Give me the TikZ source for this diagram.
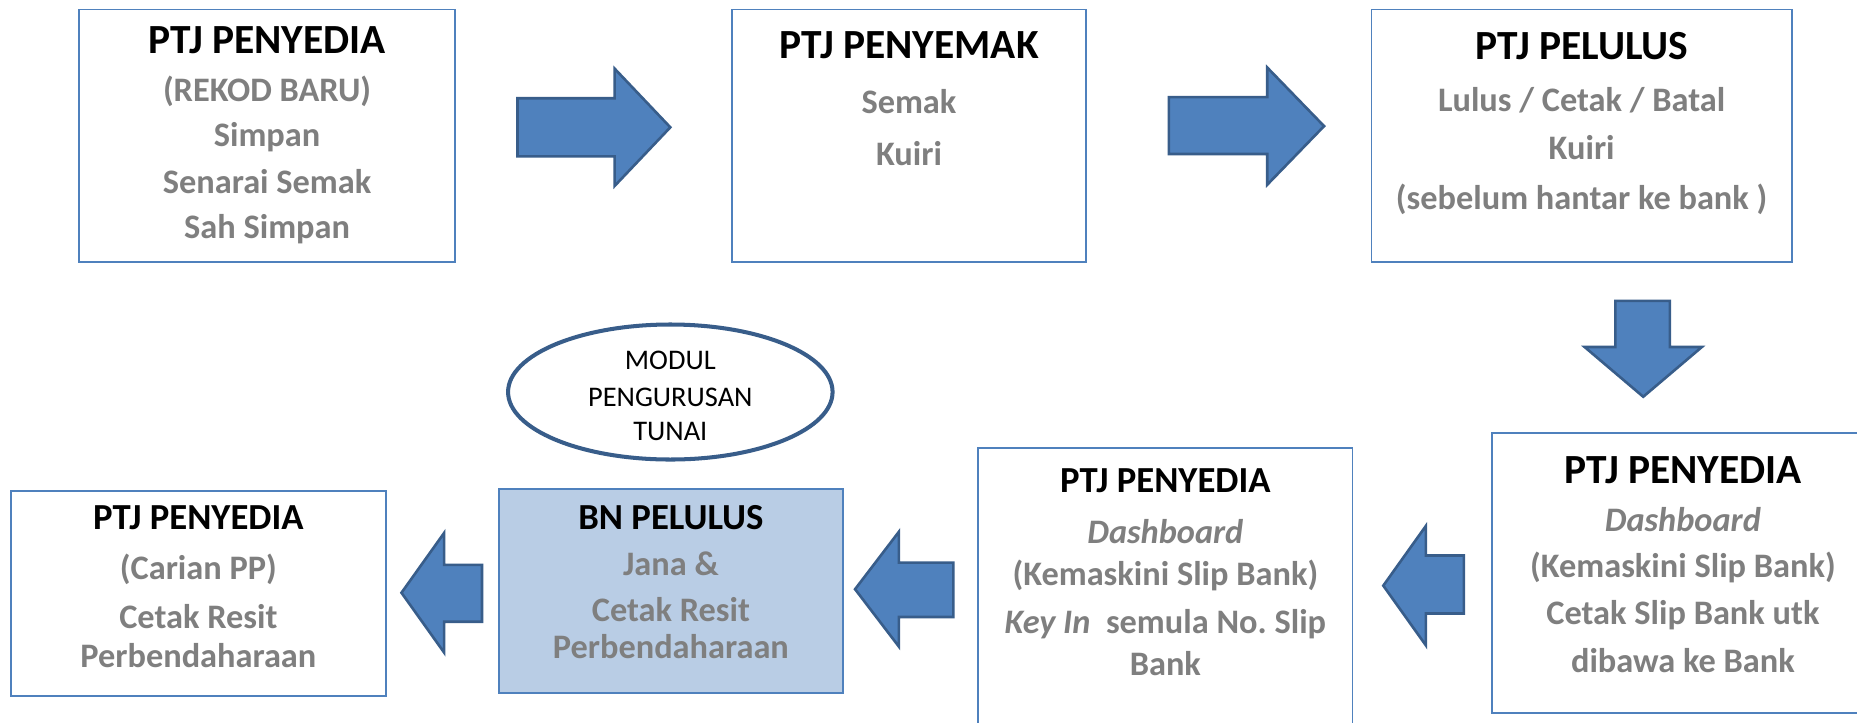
\documentclass[tikz,border=0pt]{standalone}
\usepackage{fontspec}
\setmainfont{Carlito}
\frenchspacing
\usetikzlibrary{shapes.geometric}
\definecolor{boxblue}{HTML}{4F81BD}
\definecolor{darkblue}{HTML}{385D8A}
\definecolor{lightfill}{HTML}{B9CDE5}
\definecolor{txtgray}{HTML}{7F7F7F}
\tikzset{
  box/.style={draw=boxblue, line width=1.6pt, fill=white, inner sep=0pt, rectangle},
  bigtitle/.style={anchor=base, inner sep=0pt, font=\fontsize{35}{42}\selectfont\bfseries},
  smalltitle/.style={anchor=base, inner sep=0pt, font=\fontsize{31}{37}\selectfont\bfseries},
  grayline/.style={anchor=base, inner sep=0pt, text=txtgray, font=\fontsize{29}{35}\selectfont\bfseries},
  ovaltext/.style={anchor=base, inner sep=0pt, font=\fontsize{24}{30}\selectfont},
  blockarrow/.style={fill=boxblue, draw=darkblue, line width=2.2pt, line join=miter},
  oval/.style={ellipse, draw=darkblue, line width=3.4pt, fill=white, inner sep=0pt},
}
\begin{document}
\begin{tikzpicture}[x=1pt,y=-1pt]
\useasboundingbox (0,0) rectangle (1568,610);
\clip (0,0) rectangle (1568,610);
\fill[white] (0,0) rectangle (1568,610);

% boxes
\node[box, minimum width=317pt, minimum height=213pt] (b1) at (225.5,114.5) {};
\node[box, minimum width=299pt, minimum height=213pt] (b2) at (767.5,114.5) {};
\node[box, minimum width=355pt, minimum height=213pt] (b3) at (1335.5,114.5) {};
\node[box, minimum width=322pt, minimum height=236.5pt] (b4) at (1421,483.75) {};
\node[box, minimum width=316pt, minimum height=282pt] (b5) at (984,519) {};
\node[box, fill=lightfill, minimum width=291pt, minimum height=172pt] (b6) at (566.5,499) {};
\node[box, minimum width=317pt, minimum height=173.5pt] (b7) at (167.5,501.25) {};
\node[oval, minimum width=274pt, minimum height=114pt] (ov) at (566,331) {};

% box 1
\node[bigtitle] (b1t) at (225.5,45) {PTJ PENYEDIA};
\node[grayline] (b1a) at (225.5,86) {(REKOD BARU)};
\node[grayline] (b1b) at (225.5,124) {Simpan};
\node[grayline] (b1c) at (225.5,163) {Senarai Semak};
\node[grayline] (b1d) at (225.5,201) {Sah Simpan};
% box 2
\node[bigtitle] (b2t) at (767.5,49) {PTJ PENYEMAK};
\node[grayline] (b2a) at (767.5,96) {Semak};
\node[grayline] (b2b) at (767.5,140) {Kuiri};
% box 3
\node[bigtitle] (b3t) at (1335.5,50) {PTJ PELULUS};
\node[grayline] (b3a) at (1335.5,94) {Lulus / Cetak / Batal};
\node[grayline] (b3b) at (1335.5,135) {Kuiri};
\node[grayline] (b3c) at (1335.5,177) {(sebelum hantar ke bank )};
% box 4
\node[bigtitle] (b4t) at (1421,408) {PTJ PENYEDIA};
\node[grayline] (b4a) at (1421,449) {\itshape Dashboard};
\node[grayline] (b4b) at (1421,488) {(Kemaskini Slip Bank)};
\node[grayline] (b4c) at (1421,527) {Cetak Slip Bank utk};
\node[grayline] (b4d) at (1421,568) {dibawa ke Bank};
% box 5
\node[smalltitle] (b5t) at (984,416) {PTJ PENYEDIA};
\node[grayline] (b5a) at (984,458.6) {\itshape Dashboard};
\node[grayline] (b5b) at (984,494) {(Kemaskini Slip Bank)};
\node[grayline] (b5c) at (984,534.6) {\textit{Key In}\ \ semula No.\ Slip};
\node[grayline] (b5d) at (984,570) {Bank};
% box 6
\node[smalltitle] (b6t) at (566.5,446.7) {BN PELULUS};
\node[grayline] (b6a) at (566.5,486) {Jana \&};
\node[grayline] (b6b) at (566.5,525) {Cetak Resit};
\node[grayline] (b6c) at (566.5,556) {Perbendaharaan};
% box 7
\node[smalltitle] (b7t) at (167.5,447.5) {PTJ PENYEDIA};
\node[grayline] (b7a) at (167.5,489.7) {(Carian PP)};
\node[grayline] (b7b) at (167.5,531) {Cetak Resit};
\node[grayline] (b7c) at (167.5,564) {Perbendaharaan};
% oval text
\node[ovaltext] (ova) at (566,312) {MODUL};
\node[ovaltext] (ovb) at (566,343) {PENGURUSAN};
\node[ovaltext] (ovc) at (566,372) {TUNAI};

% block arrows
\draw[blockarrow] (437,83) -- (519,83) -- (519,58) -- (566,107.5) -- (519,157) -- (519,132) -- (437,132) -- cycle;
\draw[blockarrow] (987,82) -- (1070,82) -- (1070,57) -- (1118,106.5) -- (1070,156) -- (1070,130) -- (987,130) -- cycle;
\draw[blockarrow] (1364,254) -- (1410,254) -- (1410,293) -- (1437,293) -- (1387.5,335) -- (1338,293) -- (1364,293) -- cycle;
\draw[blockarrow] (1236,469) -- (1204,469) -- (1204,444) -- (1168,494.5) -- (1204,545) -- (1204,518) -- (1236,518) -- cycle;
\draw[blockarrow] (805,475) -- (759,475) -- (759,449) -- (722,497.5) -- (759,546) -- (759,521) -- (805,521) -- cycle;
\draw[blockarrow] (407,477) -- (375,477) -- (375,450) -- (339,500.5) -- (375,551) -- (375,525) -- (407,525) -- cycle;
\end{tikzpicture}
\end{document}
